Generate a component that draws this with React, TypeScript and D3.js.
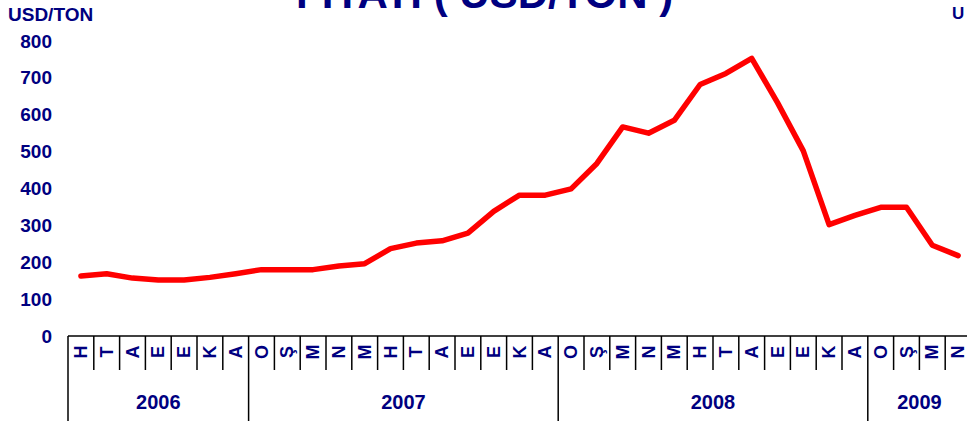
import React from "react";
import * as d3 from "d3";

// monthly price, USD/ton, Jun 2006 - Apr 2009
const monthLabels = [
  "H", "T", "A", "E", "E", "K", "A",
  "O", "Ş", "M", "N", "M", "H", "T", "A", "E", "E", "K", "A",
  "O", "Ş", "M", "N", "M", "H", "T", "A", "E", "E", "K", "A",
  "O", "Ş", "M", "N",
];
const prices = [
  163, 169, 157, 152, 152, 159, 169,
  180, 180, 180, 190, 196, 237, 252, 258, 279, 338, 382, 382,
  399, 468, 567, 550, 585, 682, 712, 753, 633, 502, 302, 327,
  349, 349, 246, 218,
];
const yearLabels = ["2006", "2007", "2008", "2009"];
const monthsPerYear = [7, 12, 12, 4];
const yTicks = [0, 100, 200, 300, 400, 500, 600, 700, 800];

const navy = "#000080";
const font = "Arial, 'Liberation Sans', sans-serif";

const App = () => {
  const W = 967;
  const H = 421;
  const left = 68;
  const cell = 25.8;
  const axisY = 336;

  const x = d3
    .scaleBand<number>()
    .domain(d3.range(prices.length))
    .range([left, left + cell * prices.length])
    .paddingInner(0)
    .paddingOuter(0);
  const y = d3.scaleLinear().domain([0, 800]).range([axisY, 41]);

  const line = d3
    .line<number>()
    .x((_, i) => x(i)! + x.bandwidth() / 2)
    .y((d) => y(d));

  // year boundaries as cumulative month index
  const bounds = [0];
  monthsPerYear.forEach((n) => bounds.push(bounds[bounds.length - 1] + n));
  const edge = (i: number) =>
    i < prices.length ? x(i)! : x(prices.length - 1)! + x.bandwidth();

  return (
    <svg
      width={W}
      height={H}
      style={{ position: "absolute", left: 0, top: 0, overflow: "hidden", background: "#fff" }}
    >
      {/* title, mostly cut off at the top */}
      <text x={296} y={8} fontFamily={font} fontWeight="bold" fontSize={42} fill={navy}>
        FİYATI ( USD/TON )
      </text>
      <text x={8} y={21} fontFamily={font} fontWeight="bold" fontSize={19} fill={navy}>
        USD/TON
      </text>
      <text x={952} y={19} fontFamily={font} fontWeight="bold" fontSize={17} fill={navy}>
        U
      </text>

      {/* y tick labels */}
      {yTicks.map((t) => (
        <text
          key={t}
          x={52}
          y={y(t)}
          textAnchor="end"
          dominantBaseline="central"
          fontFamily={font}
          fontWeight="bold"
          fontSize={19}
          fill={navy}
        >
          {t}
        </text>
      ))}

      {/* category axis */}
      <line x1={left} x2={W + 10} y1={axisY} y2={axisY} stroke="#000" strokeWidth={1.5} />
      {d3.range(prices.length + 1).map((i) =>
        bounds.includes(i) ? null : (
          <line key={"t" + i} x1={edge(i)} x2={edge(i)} y1={axisY} y2={370} stroke="#000" strokeWidth={1.5} />
        )
      )}
      {bounds.map((b) => (
        <line key={"b" + b} x1={edge(b)} x2={edge(b)} y1={axisY} y2={H} stroke="#000" strokeWidth={1.5} />
      ))}

      {monthLabels.map((m, i) => {
        const cx = x(i)! + x.bandwidth() / 2;
        const cy = 352;
        return (
          <text
            key={"m" + i}
            transform={`translate(${cx},${cy}) rotate(-90)`}
            textAnchor="middle"
            dominantBaseline="central"
            fontFamily={font}
            fontWeight="bold"
            fontSize={18}
            fill={navy}
          >
            {m}
          </text>
        );
      })}

      {yearLabels.map((yl, k) => (
        <text
          key={yl}
          x={(edge(bounds[k]) + edge(bounds[k + 1])) / 2}
          y={409}
          textAnchor="middle"
          fontFamily={font}
          fontWeight="bold"
          fontSize={20}
          fill={navy}
        >
          {yl}
        </text>
      ))}

      <path
        d={line(prices) ?? ""}
        fill="none"
        stroke="#ff0000"
        strokeWidth={5.5}
        strokeLinecap="round"
        strokeLinejoin="round"
      />
    </svg>
  );
};

export default App;
